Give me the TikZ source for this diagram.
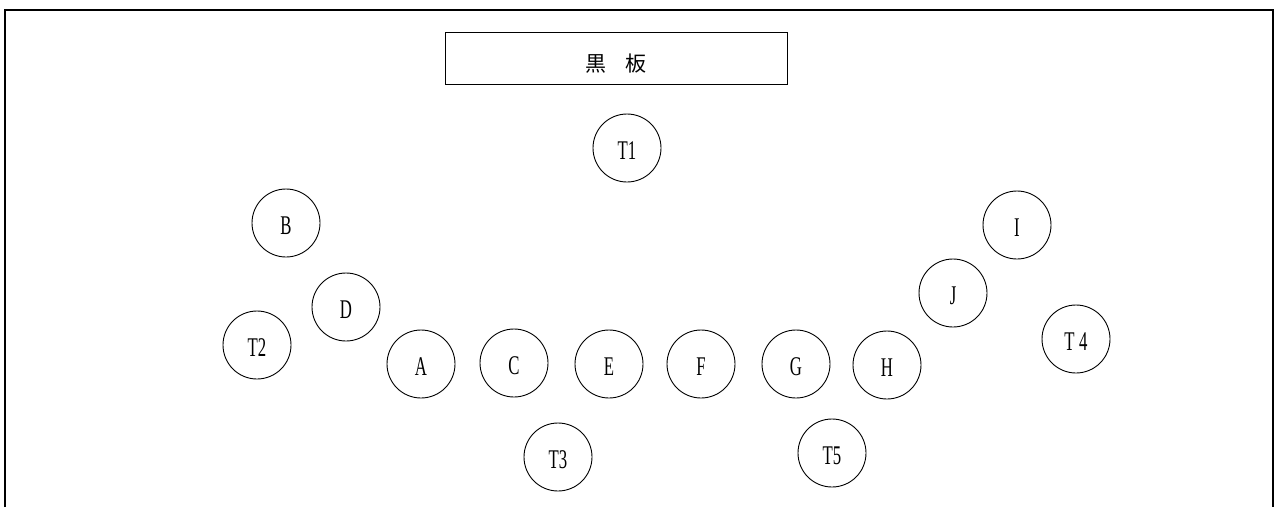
\documentclass[tikz,border=0pt]{standalone}
\usepackage{fontspec}
\usepackage{tikz}
\usetikzlibrary{positioning}
\newfontfamily\seatfont[FakeStretch=0.62]{Liberation Serif}
\newfontfamily\cjkfont{Noto Sans CJK JP}
\definecolor{roomLine}{HTML}{000000}
\tikzset{
  roomFrame/.style={draw=roomLine, line width=1.1pt},
  boardBox/.style={
    draw=roomLine,
    line width=0.9pt,
    minimum width=342pt,
    minimum height=52pt,
    inner sep=0pt,
    text height=26pt,
    text depth=0pt,
    font=\cjkfont\fontsize{21}{21}\selectfont
  },
  seatCircle/.style={
    circle,
    draw=roomLine,
    line width=0.9pt,
    minimum size=68pt,
    inner sep=0pt,
    text height=23pt,
    text depth=0pt,
    font=\seatfont\fontsize{27}{27}\selectfont
  }
}
\begin{document}
\begin{tikzpicture}[x=1pt,y=-1pt]
  \useasboundingbox (0,0) rectangle (1274,507);
  \draw[roomFrame] (5,507) -- (5,10) -- (1273,10) -- (1273,507);

  \node[boardBox] (board) at (616,58) {黒\hspace{0.9em}板};

  % teachers and students
  \foreach \name/\x/\y/\lab in {
      T1/627/148/{T1}, T2/257/345/{T2}, T3/558/457/{T3},
      T4/1076/339/{T\,4}, T5/832/453/{T5},
      B/286/223/{B}, D/346/307/{D}, A/421/364/{A},
      C/514/363/{C}, E/609/364/{E}, F/701/364/{F},
      G/796/364/{G}, H/887/365/{H}, J/953/293/{J}, I/1017/225/{I}} {
    \node[seatCircle] (\name) at (\x,\y) {\lab};
  }
\end{tikzpicture}
\end{document}
